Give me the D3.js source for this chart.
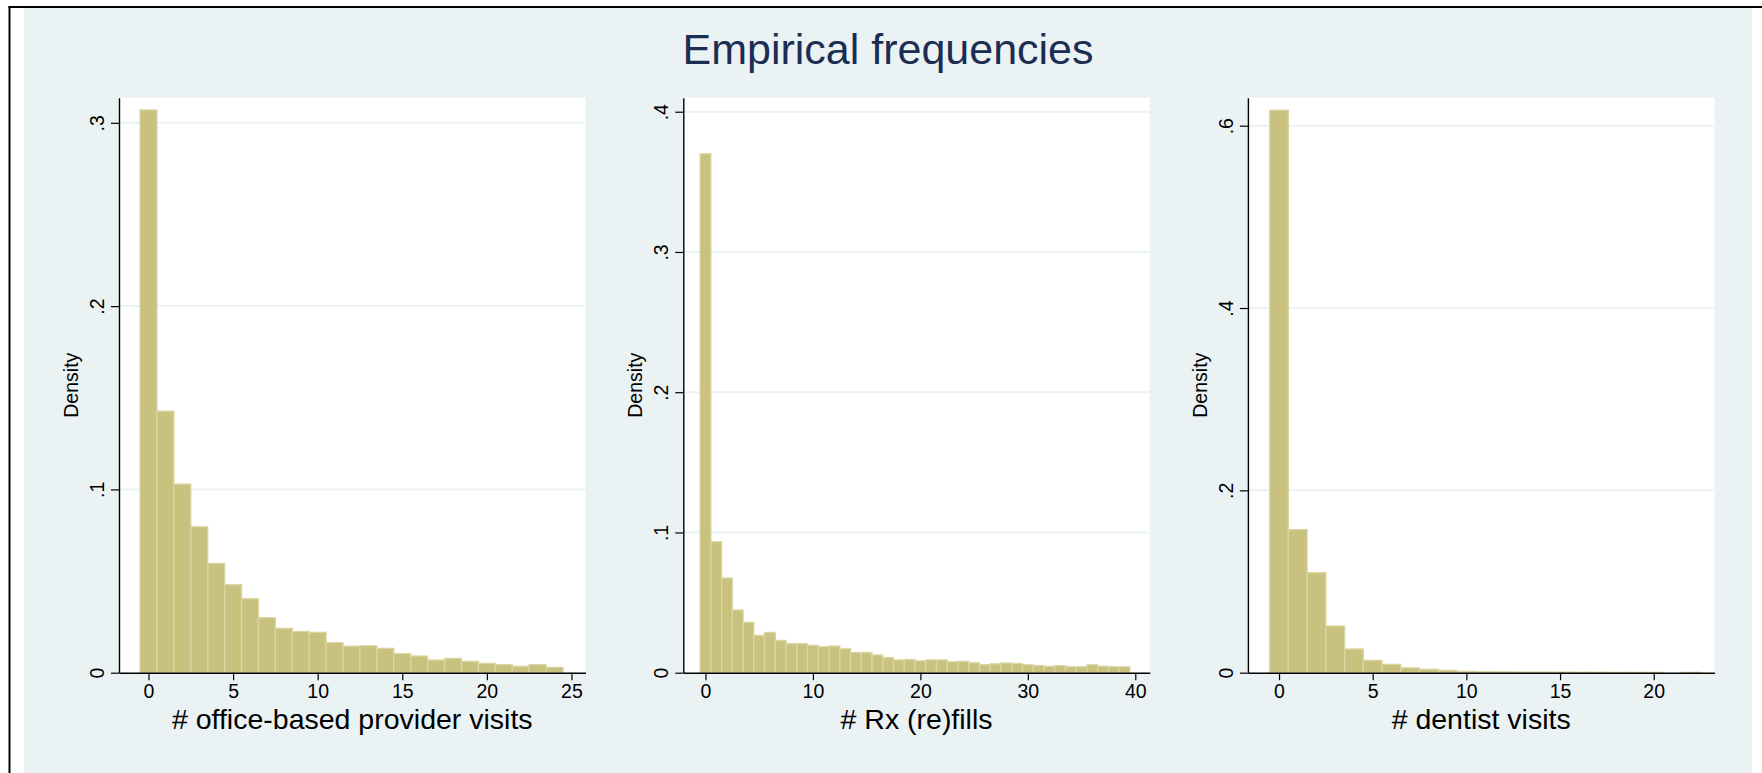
<!DOCTYPE html>
<html>
<head>
<meta charset="utf-8">
<script src="https://cdn.jsdelivr.net/npm/d3@7"></script>
<style>
  html, body { margin: 0; padding: 0; background: #ffffff; }
  svg { display: block; }
  text { font-family: "Liberation Sans", Arial, Helvetica, sans-serif; }
</style>
</head>
<body>
<svg id="chart" width="1762" height="773"></svg>
<script>
// Histogram densities, one bar per count value starting at 0
const officeVisits = [0.307, 0.1427, 0.1029, 0.0796, 0.0596, 0.048, 0.0404, 0.030, 0.0242, 0.0225,
  0.022, 0.0164, 0.0145, 0.0147, 0.0133, 0.0104, 0.0091, 0.0069, 0.0078, 0.0062,
  0.0051, 0.0044, 0.0035, 0.0044, 0.0029];
const rxFills = [0.370, 0.0934, 0.0675, 0.0447, 0.0359, 0.0266, 0.0287, 0.023, 0.0207, 0.0207,
  0.0195, 0.0185, 0.019, 0.017, 0.0144, 0.0144, 0.0126, 0.0108, 0.0091, 0.0094,
  0.0085, 0.0091, 0.0091, 0.0078, 0.0081, 0.0071, 0.0057, 0.0063, 0.0069, 0.0066,
  0.0056, 0.0051, 0.0045, 0.005, 0.0042, 0.0042, 0.0056, 0.0046, 0.0042, 0.0042];
const dentistVisits = [0.617, 0.1569, 0.1097, 0.0512, 0.026, 0.0135, 0.0091, 0.0053, 0.0037, 0.0026,
  0.0015, 0.0011, 0.0009, 0.0008, 0.0007, 0.0006, 0.0005, 0.0005, 0.0004, 0.0004,
  0.0004, 0, 0.0004];

const xTitles = ["# office-based provider visits", "# Rx (re)fills", "# dentist visits"];
const xTicks = [[0, 5, 10, 15, 20, 25], [0, 10, 20, 30, 40], [0, 5, 10, 15, 20]];
const yTicks = [[0, 0.1, 0.2, 0.3], [0, 0.1, 0.2, 0.3, 0.4], [0, 0.2, 0.4, 0.6]];
const xDomains = [[-1.744, 25.83], [-2.064, 41.35], [-1.662, 23.24]];
const yMax = [0.3137, 0.41, 0.6307];
const chartTitle = "Empirical frequencies";
const yTitle = "Density";

const series = [officeVisits, rxFills, dentistVisits];

// Layout
const W = 1762, H = 773;
const plotTop = 97.7, plotBottom = 672.7, plotWidth = 466.5;
const plotLefts = [119, 683.3, 1247.9];

const bgColor = "#eaf2f3";
const barFill = "#c9c27e";
const barEdge = "#dad5a2";

const svg = d3.select("#chart");

// page frame and graph background
svg.append("rect").attr("x", 24).attr("y", 8).attr("width", 1752 - 24).attr("height", H - 8).attr("fill", bgColor);
svg.append("rect").attr("x", 8.5).attr("y", 6).attr("width", W - 8.5).attr("height", 2).attr("fill", "#000");
svg.append("rect").attr("x", 8.5).attr("y", 6).attr("width", 2).attr("height", H - 6).attr("fill", "#000");

svg.append("text")
  .attr("x", 888).attr("y", 63.5)
  .attr("text-anchor", "middle")
  .attr("font-size", 43)
  .attr("fill", "#1c2d54")
  .text(chartTitle);

const fmt = d => d === 0 ? "0" : (Number.isInteger(d) ? String(d) : d3.format(".1f")(d).replace(/^0/, ""));

series.forEach((vals, i) => {
  const left = plotLefts[i];
  const x = d3.scaleLinear().domain(xDomains[i]).range([left, left + plotWidth]);
  const y = d3.scaleLinear().domain([0, yMax[i]]).range([plotBottom, plotTop]);
  const g = svg.append("g");

  // plot region
  g.append("rect")
    .attr("x", left).attr("y", plotTop)
    .attr("width", plotWidth).attr("height", plotBottom - plotTop)
    .attr("fill", "#ffffff");

  // horizontal gridlines
  g.selectAll("line.grid")
    .data(yTicks[i].filter(t => t > 0))
    .join("line")
    .attr("class", "grid")
    .attr("x1", left).attr("x2", left + plotWidth)
    .attr("y1", d => y(d)).attr("y2", d => y(d))
    .attr("stroke", bgColor).attr("stroke-width", 2);

  // bars, unit width centred on each count
  g.selectAll("rect.bar")
    .data(vals.map((v, k) => ({ k, v })))
    .join("rect")
    .attr("class", "bar")
    .attr("x", d => x(d.k - 0.5))
    .attr("width", d => x(d.k + 0.5) - x(d.k - 0.5))
    .attr("y", d => y(d.v))
    .attr("height", d => y(0) - y(d.v))
    .attr("fill", barFill)
    .attr("stroke", d => d.v > 0 ? barEdge : "none")
    .attr("stroke-width", 1.3);

  // x axis
  const xa = g.append("g")
    .attr("transform", `translate(0,${plotBottom})`)
    .call(d3.axisBottom(x).tickValues(xTicks[i]).tickFormat(fmt).tickSize(7.5).tickSizeOuter(0).tickPadding(4));
  xa.select(".domain").attr("stroke", "#000").attr("stroke-width", 1.4);
  xa.selectAll(".tick line").attr("stroke", "#000").attr("stroke-width", 1.2);
  xa.selectAll(".tick text").attr("font-size", 19.5).attr("fill", "#000")
    .attr("font-family", "'Liberation Sans', Arial, sans-serif");

  // y axis with labels turned to read upward
  const ya = g.append("g")
    .attr("transform", `translate(${left},0)`)
    .call(d3.axisLeft(y).tickValues(yTicks[i]).tickFormat(fmt).tickSize(8).tickSizeOuter(0));
  ya.select(".domain").attr("stroke", "#000").attr("stroke-width", 1.4);
  ya.selectAll(".tick line").attr("stroke", "#000").attr("stroke-width", 1.2);
  ya.selectAll(".tick text")
    .attr("font-size", 19.5).attr("fill", "#000")
    .attr("font-family", "'Liberation Sans', Arial, sans-serif")
    .attr("x", 0).attr("y", -15).attr("dy", null)
    .attr("text-anchor", "middle")
    .attr("transform", "rotate(-90)");

  // axis titles
  g.append("text")
    .attr("x", left + plotWidth / 2).attr("y", 728.5)
    .attr("text-anchor", "middle")
    .attr("font-size", 28.5).attr("fill", "#000")
    .text(xTitles[i]);

  g.append("text")
    .attr("transform", `translate(${left - 41},${(plotTop + plotBottom) / 2}) rotate(-90)`)
    .attr("text-anchor", "middle")
    .attr("font-size", 19.5).attr("fill", "#000")
    .text(yTitle);
});
</script>
</body>
</html>
